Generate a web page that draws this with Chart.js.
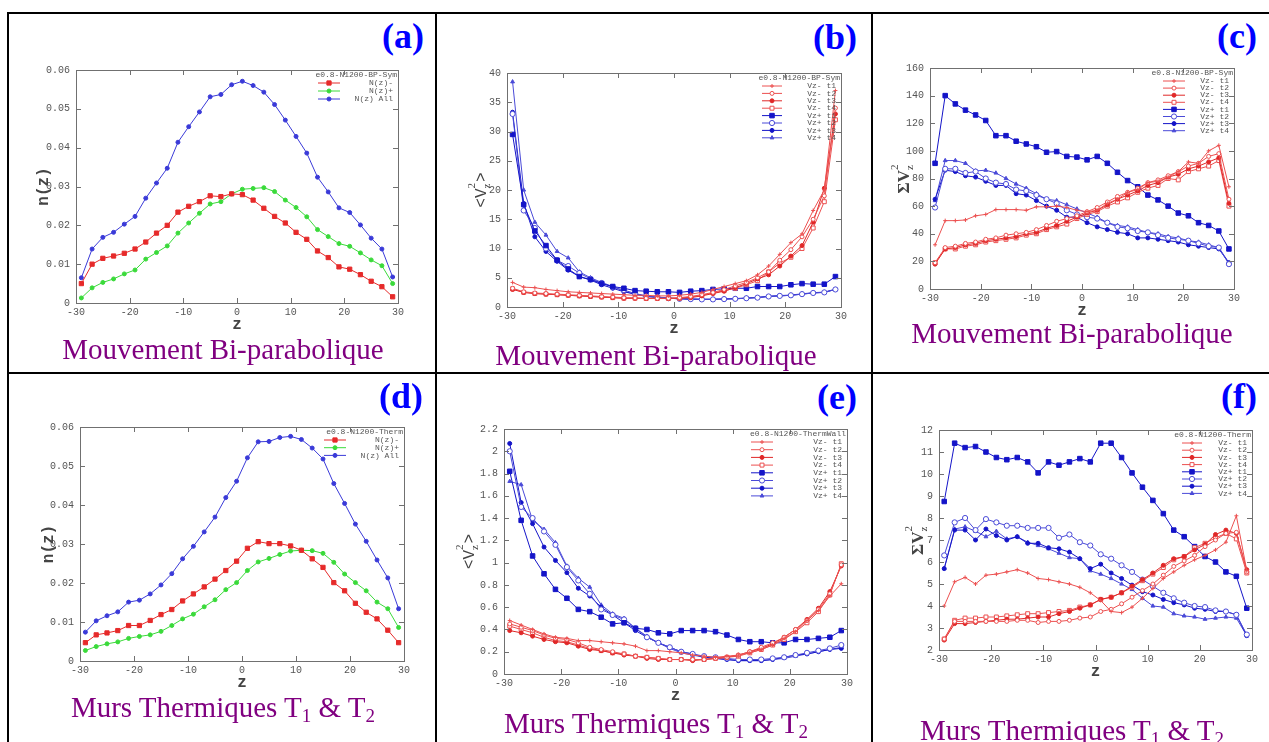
<!DOCTYPE html>
<html>
<head>
<meta charset="utf-8">
<script src="https://cdn.jsdelivr.net/npm/chart.js@4.4.0/dist/chart.umd.min.js"></script>
<style>
body{margin:0;background:#fff;width:1269px;height:742px;overflow:hidden;position:relative}
.ln{position:absolute;background:#000}
.box{position:absolute}
.tag{position:absolute;width:80px;text-align:right;font:bold 36px "Liberation Serif",serif;line-height:36px;color:#0000ff}
.cap{position:absolute;width:440px;text-align:center;white-space:nowrap;font:29px "Liberation Serif",serif;line-height:29px;color:#800080}
.cap sub{font-size:19px;line-height:0;vertical-align:-5px}
</style>
</head>
<body>
<div class="ln" style="left:7px;top:12px;width:1262px;height:2px"></div>
<div class="ln" style="left:7px;top:372px;width:1262px;height:2px"></div>
<div class="ln" style="left:7px;top:12px;width:2px;height:730px"></div>
<div class="ln" style="left:435px;top:12px;width:2px;height:730px"></div>
<div class="ln" style="left:871px;top:12px;width:2px;height:730px"></div>

<div class="box" id="boxa"><canvas id="ca"></canvas></div>
<div class="box" id="boxb"><canvas id="cb"></canvas></div>
<div class="box" id="boxc"><canvas id="cc"></canvas></div>
<div class="box" id="boxd"><canvas id="cd"></canvas></div>
<div class="box" id="boxe"><canvas id="ce"></canvas></div>
<div class="box" id="boxf"><canvas id="cf"></canvas></div>

<div class="tag" style="left:344px;top:18px">(a)</div>
<div class="tag" style="left:777px;top:19px">(b)</div>
<div class="tag" style="left:1177px;top:18px">(c)</div>
<div class="tag" style="left:343px;top:378px">(d)</div>
<div class="tag" style="left:777px;top:379px">(e)</div>
<div class="tag" style="left:1177px;top:378px">(f)</div>

<div class="cap" style="left:3px;top:335px">Mouvement Bi-parabolique</div>
<div class="cap" style="left:436px;top:341px">Mouvement Bi-parabolique</div>
<div class="cap" style="left:852px;top:319px">Mouvement Bi-parabolique</div>
<div class="cap" style="left:3px;top:693px">Murs Thermiques T<sub>1</sub> &amp; T<sub>2</sub></div>
<div class="cap" style="left:436px;top:709px">Murs Thermiques T<sub>1</sub> &amp; T<sub>2</sub></div>
<div class="cap" style="left:852px;top:716px">Murs Thermiques T<sub>1</sub> &amp; T<sub>2</sub></div>

<script>
// z positions of the bins
const zValues = [-29,-27,-25,-23,-21,-19,-17,-15,-13,-11,-9,-7,-5,-3,-1,1,3,5,7,9,11,13,15,17,19,21,23,25,27,29];
const xTicks = [-30,-20,-10,0,10,20,30];

// (a) n(z), bi-parabolic
const aMinus = [0.0050,0.0100,0.0115,0.0121,0.0128,0.0139,0.0157,0.0180,0.0200,0.0234,0.0249,0.0261,0.0276,0.0274,0.0281,0.0279,0.0265,0.0244,0.0223,0.0206,0.0182,0.0164,0.0134,0.0117,0.0093,0.0087,0.0073,0.0056,0.0042,0.0016];
const aPlus  = [0.0013,0.0039,0.0053,0.0062,0.0075,0.0085,0.0113,0.0130,0.0147,0.0180,0.0206,0.0231,0.0255,0.0261,0.0281,0.0293,0.0295,0.0297,0.0287,0.0265,0.0246,0.0222,0.0189,0.0171,0.0153,0.0146,0.0129,0.0111,0.0096,0.0050];
const aAll   = [0.0065,0.0139,0.0169,0.0182,0.0203,0.0223,0.0270,0.0309,0.0347,0.0414,0.0454,0.0492,0.0531,0.0537,0.0562,0.0571,0.0560,0.0543,0.0511,0.0471,0.0429,0.0386,0.0324,0.0286,0.0245,0.0233,0.0201,0.0167,0.0139,0.0067];

// (b) <Vz^2>, bi-parabolic
const bVm1 = [4.2,3.4,3.3,3.0,2.8,2.6,2.5,2.4,2.3,2.2,2.1,2.0,2.0,1.9,1.9,2.0,2.2,2.5,3.0,3.5,4.0,4.5,5.5,7.0,9.0,11.0,12.5,16.5,20.0,37.0];
const bVm2 = [3.2,2.6,2.4,2.3,2.2,2.1,2.0,1.9,1.8,1.7,1.6,1.55,1.5,1.5,1.5,1.6,1.8,2.1,2.5,3.0,3.6,4.2,5.0,6.0,8.0,9.8,12.0,15.0,19.0,34.0];
const bVm3 = [3.0,2.5,2.3,2.2,2.1,2.0,1.9,1.8,1.7,1.6,1.5,1.5,1.45,1.45,1.45,1.5,1.6,1.9,2.3,2.7,3.3,4.0,4.8,5.5,7.0,8.7,10.5,14.5,20.3,33.0];
const bVm4 = [3.1,2.5,2.3,2.2,2.1,2.0,1.9,1.8,1.7,1.6,1.5,1.5,1.45,1.45,1.45,1.5,1.7,2.0,2.4,2.8,3.2,3.8,4.5,6.0,7.5,8.5,10.0,13.5,18.0,32.0];
const bVp1 = [29.5,17.5,13,10.5,8,6.5,5.2,4.7,4,3.5,3.2,2.8,2.7,2.6,2.6,2.5,2.7,2.8,3,3.1,3.2,3.2,3.5,3.5,3.5,3.8,4,3.9,3.9,5.2];
const bVp2 = [33,16.5,13.5,10,8,7,5.8,4.8,4.1,3.4,2.9,2.3,1.9,1.7,1.5,1.4,1.35,1.3,1.3,1.35,1.4,1.5,1.6,1.8,1.9,2.0,2.2,2.4,2.5,3.0];
const bVp3 = [33.3,17.7,12,9.5,7.8,6.3,5.2,4.6,3.8,3.2,2.6,2.2,1.8,1.6,1.5,1.4,1.3,1.3,1.3,1.35,1.4,1.5,1.6,1.8,1.9,2.0,2.2,2.4,2.5,3.0];
const bVp4 = [38.5,20,14.5,12.3,9.5,8.4,6,5,4.2,3.5,2.7,2.2,1.9,1.7,1.55,1.45,1.4,1.35,1.35,1.4,1.45,1.55,1.65,1.85,1.95,2.05,2.25,2.45,2.55,3.05];

// (c) sum Vz^2, bi-parabolic
const cVm1 = [32,49.5,49.5,50,53,54,57.5,57.5,57.5,57,59.5,59.5,60,59,57,56,57,62,65,70,72,77,78,81,85,92,91,100,104,74];
const cVm2 = [19,30,31,33,34,36,37,39,40,41,43,46,49,51,53,56,59,63,67,70,73,77,79,82,85,89,91,96,98,65];
const cVm3 = [18,29,30,32,33,35,36,37,38,40,41,44,46,49,52,55,57,61,65,68,71,75,77,81,83,87,89,92,95,62];
const cVm4 = [19,29,29,31,32,34,35,36,37,39,40,43,45,47,51,54,56,60,63,66,70,73,75,80,79,85,87,89,93,60];
const cVp1 = [91,140,134,129.5,126,122,111,111,107,105,103,99,99.5,96,95.5,93.5,96,91,84.5,78.5,74,68,64.5,60,55,53,48,46,42,29];
const cVp2 = [59,87,87,84,85,80,77,76,72,71,68,65,62,57,54,52,51,48,45,44,42,41,39,37,36,35,33,31,30,18];
const cVp3 = [65,86,85,82,81,78,75,75,69,68,64,60,57,52,52,48,45,43,41,40,37,37,36,35,34,32,31,30,29,19];
const cVp4 = [64,93,93,91,85.5,86,84,80,76,73,69,65,64,61,58,55,52,48,46,45,43,41,40,38,37,35,34,32,30,19];

// (d) n(z), thermal walls
const dMinus = [0.0047,0.0067,0.0072,0.0078,0.0091,0.0091,0.0104,0.0119,0.0132,0.0154,0.0172,0.0190,0.0210,0.0232,0.0256,0.0289,0.0306,0.0301,0.0301,0.0295,0.0284,0.0262,0.0240,0.0201,0.0180,0.0148,0.0125,0.0108,0.0079,0.0047];
const dPlus  = [0.0027,0.0037,0.0044,0.0049,0.0058,0.0063,0.0067,0.0076,0.0091,0.0108,0.0120,0.0139,0.0157,0.0183,0.0201,0.0232,0.0254,0.0263,0.0273,0.0282,0.0284,0.0283,0.0276,0.0253,0.0223,0.0201,0.0180,0.0151,0.0134,0.0086];
const dAll   = [0.0074,0.0103,0.0116,0.0126,0.0151,0.0156,0.0172,0.0195,0.0224,0.0262,0.0294,0.0331,0.0369,0.0419,0.0461,0.0521,0.0562,0.0563,0.0573,0.0576,0.0568,0.0546,0.0518,0.0455,0.0404,0.0351,0.0307,0.0259,0.0213,0.0134];

// (e) <Vz^2>, thermal walls
const eVm1 = [0.48,0.44,0.40,0.36,0.33,0.32,0.30,0.30,0.29,0.28,0.27,0.25,0.21,0.21,0.20,0.19,0.17,0.16,0.15,0.16,0.17,0.19,0.22,0.26,0.32,0.38,0.48,0.57,0.70,0.81];
const eVm2 = [0.45,0.42,0.39,0.35,0.32,0.31,0.28,0.24,0.22,0.20,0.18,0.16,0.15,0.14,0.13,0.13,0.13,0.13,0.14,0.15,0.17,0.20,0.24,0.28,0.33,0.40,0.48,0.58,0.72,0.98];
const eVm3 = [0.39,0.37,0.34,0.31,0.29,0.28,0.25,0.22,0.21,0.19,0.17,0.16,0.14,0.13,0.13,0.13,0.12,0.13,0.14,0.15,0.17,0.20,0.23,0.27,0.33,0.40,0.49,0.59,0.74,0.97];
const eVm4 = [0.43,0.40,0.37,0.33,0.30,0.29,0.26,0.23,0.21,0.19,0.18,0.16,0.15,0.14,0.13,0.13,0.13,0.13,0.14,0.15,0.16,0.19,0.22,0.26,0.31,0.38,0.46,0.56,0.71,0.99];
const eVp1 = [1.82,1.38,1.06,0.90,0.76,0.68,0.58,0.56,0.51,0.45,0.46,0.41,0.40,0.37,0.36,0.39,0.39,0.39,0.38,0.35,0.31,0.29,0.29,0.28,0.28,0.31,0.31,0.32,0.33,0.39];
const eVp2 = [2.0,1.5,1.4,1.28,1.16,0.96,0.84,0.72,0.58,0.53,0.49,0.41,0.33,0.28,0.24,0.20,0.18,0.16,0.15,0.14,0.13,0.13,0.13,0.14,0.15,0.17,0.19,0.21,0.23,0.26];
const eVp3 = [2.07,1.54,1.35,1.14,1.02,0.91,0.77,0.70,0.60,0.53,0.46,0.39,0.33,0.28,0.24,0.20,0.18,0.15,0.14,0.13,0.12,0.12,0.12,0.13,0.15,0.17,0.18,0.20,0.22,0.23];
const eVp4 = [1.73,1.70,1.38,1.30,1.18,0.97,0.86,0.78,0.62,0.54,0.50,0.41,0.34,0.28,0.23,0.19,0.17,0.15,0.14,0.13,0.12,0.12,0.12,0.13,0.14,0.16,0.18,0.20,0.22,0.24];

// (f) sum Vz^2, thermal walls
const fVm1 = [4.0,5.1,5.3,5.0,5.4,5.45,5.55,5.65,5.5,5.25,5.2,5.1,5.0,4.85,4.6,4.25,3.75,3.7,3.95,4.35,4.8,5.25,5.55,5.85,6.1,6.3,6.55,6.9,8.1,5.6];
const fVm2 = [2.5,3.3,3.3,3.3,3.3,3.3,3.3,3.35,3.35,3.25,3.3,3.3,3.35,3.45,3.5,3.75,3.85,4.1,4.4,4.7,5.0,5.4,5.8,6.05,6.3,6.7,7.0,7.3,7.35,5.55];
const fVm3 = [2.45,3.2,3.2,3.25,3.3,3.35,3.4,3.4,3.45,3.5,3.5,3.65,3.75,3.9,4.05,4.3,4.4,4.6,4.9,5.2,5.5,5.85,6.15,6.25,6.55,6.8,7.25,7.45,7.3,5.65];
const fVm4 = [2.5,3.35,3.45,3.45,3.5,3.5,3.55,3.6,3.65,3.65,3.7,3.75,3.8,3.95,4.05,4.3,4.4,4.6,4.85,5.15,5.45,5.75,6.1,6.25,6.65,6.85,7.1,7.3,7.05,5.5];
const fVp1 = [8.75,11.4,11.2,11.25,11.0,10.75,10.65,10.75,10.55,10.05,10.55,10.4,10.55,10.7,10.55,11.4,11.4,10.75,10.05,9.4,8.8,8.2,7.45,7.15,6.7,6.25,6.0,5.55,5.35,3.9];
const fVp2 = [6.3,7.8,8.0,7.45,7.95,7.8,7.65,7.65,7.55,7.55,7.55,7.1,7.25,6.9,6.75,6.35,6.15,5.85,5.55,5.2,4.9,4.6,4.35,4.15,4.0,3.95,3.8,3.75,3.6,2.7];
const fVp3 = [5.7,7.45,7.45,7.0,7.5,7.2,7.0,7.15,6.85,6.85,6.65,6.6,6.45,6.15,5.7,5.9,5.5,5.25,4.95,4.65,4.5,4.3,4.15,4.05,3.9,3.85,3.75,3.75,3.6,2.65];
const fVp4 = [5.7,7.5,7.6,7.4,7.15,7.4,7.05,7.15,6.9,6.75,6.6,6.4,6.2,6.15,5.6,5.45,5.25,5.0,4.75,4.35,4.0,3.95,3.65,3.55,3.5,3.4,3.45,3.5,3.45,2.65];

const nLabels = ['N(z)-', 'N(z)+', 'N(z) All'];
const vLabels = ['Vz- t1','Vz- t2','Vz- t3','Vz- t4','Vz+ t1','Vz+ t2','Vz+ t3','Vz+ t4'];

const nStyles = [
  {c:'#e62a2a', ps:'rect', r:3, fill:true},
  {c:'#3ada3a', ps:'circle', r:2, fill:true},
  {c:'#3a3ad8', ps:'circle', r:2, fill:true}
];
const vStyles = [
  {c:'#ec5050', ps:'cross', r:2, fill:true},
  {c:'#ec5050', ps:'circle', r:2, fill:false},
  {c:'#e02828', ps:'circle', r:2, fill:true},
  {c:'#ec5050', ps:'rect', r:2.8, fill:false},
  {c:'#1414c8', ps:'rect', r:3.2, fill:true},
  {c:'#4a4ad8', ps:'circle', r:2.6, fill:false},
  {c:'#1414c8', ps:'circle', r:2, fill:true},
  {c:'#4a4ad8', ps:'triangle', r:2.2, fill:true}
];

function makeSets(series, labels, styles) {
  return series.map((s, i) => ({
    label: labels[i],
    data: zValues.map((z, k) => ({x: z, y: s[k]})),
    borderColor: styles[i].c,
    backgroundColor: styles[i].fill ? styles[i].c : '#fff',
    pointStyle: styles[i].ps,
    pointRadius: styles[i].r,
    pointBorderWidth: 1,
    borderWidth: 1,
    tension: 0
  }));
}

// gnuplot-like frame with inward ticks on all four sides
const framePlugin = {
  id: 'frame',
  afterDatasetsDraw(chart) {
    const {ctx, chartArea: a, scales} = chart;
    ctx.save();
    ctx.strokeStyle = '#707070';
    ctx.lineWidth = 1;
    ctx.strokeRect(Math.round(a.left) + .5, Math.round(a.top) + .5, Math.round(a.right - a.left), Math.round(a.bottom - a.top));
    ctx.beginPath();
    scales.x.ticks.forEach(t => {
      const p = Math.round(scales.x.getPixelForValue(t.value)) + .5;
      ctx.moveTo(p, a.bottom); ctx.lineTo(p, a.bottom - 5);
      ctx.moveTo(p, a.top); ctx.lineTo(p, a.top + 5);
    });
    scales.y.ticks.forEach(t => {
      const p = Math.round(scales.y.getPixelForValue(t.value)) + .5;
      ctx.moveTo(a.left, p); ctx.lineTo(a.left + 5, p);
      ctx.moveTo(a.right, p); ctx.lineTo(a.right - 5, p);
    });
    ctx.stroke();
    ctx.restore();
  }
};

// key in the top right corner, sample on the left, text right aligned
const keyPlugin = {
  id: 'gkey',
  afterDraw(chart, args, o) {
    const {ctx, chartArea: a} = chart;
    ctx.save();
    ctx.font = '8px "Liberation Mono", monospace';
    ctx.textAlign = 'right';
    ctx.textBaseline = 'middle';
    ctx.fillStyle = '#555';
    ctx.fillText(o.title, a.right - 1, a.top + 5);
    chart.data.datasets.forEach((ds, i) => {
      const yy = a.top + 13 + i * o.rowH;
      ctx.fillStyle = '#555';
      ctx.fillText(ds.label, a.right - 5, yy);
      const x0 = a.right - o.sample[0], x1 = a.right - o.sample[1];
      ctx.strokeStyle = ds.borderColor;
      ctx.lineWidth = 1;
      ctx.beginPath(); ctx.moveTo(x0, yy); ctx.lineTo(x1, yy); ctx.stroke();
      ctx.fillStyle = ds.backgroundColor;
      if (Chart.helpers && Chart.helpers.drawPoint) {
        Chart.helpers.drawPoint(ctx, {pointStyle: ds.pointStyle, radius: ds.pointRadius, borderWidth: 1, rotation: 0}, (x0 + x1) / 2, yy);
      }
    });
    ctx.restore();
  }
};

// rotated y title with stacked sub/superscript
const yTitlePlugin = {
  id: 'ytitle',
  afterDraw(chart, args, o) {
    const {ctx, chartArea: a} = chart;
    const big = o.font, small = '11px "Liberation Serif", serif';
    ctx.save();
    ctx.translate(a.left - o.offset, (a.top + a.bottom) / 2);
    ctx.rotate(-Math.PI / 2);
    ctx.fillStyle = '#444';
    ctx.textBaseline = 'alphabetic';
    ctx.textAlign = 'left';
    ctx.font = big;
    const w1 = ctx.measureText(o.main).width;
    ctx.font = small;
    const w2 = o.sub ? Math.max(ctx.measureText(o.sub).width, ctx.measureText(o.sup).width) + 1 : 0;
    ctx.font = big;
    const w3 = o.tail ? ctx.measureText(o.tail).width : 0;
    let x = -(w1 + w2 + w3) / 2;
    const base = 6;
    ctx.fillText(o.main, x, base);
    x += w1;
    if (o.sub) {
      ctx.font = small;
      ctx.fillText(o.sub, x, base + 4);
      ctx.fillText(o.sup, x, base - 11);
      x += w2;
    }
    if (o.tail) { ctx.font = big; ctx.fillText(o.tail, x, base); }
    ctx.restore();
  }
};

const tickFont = {family: '"Liberation Mono", monospace', size: 10};

function makeChart(id, box, geom, sets, yMin, yMax, yStep, key, ytitle) {
  const [L, T, R, B] = geom;
  const el = document.getElementById(box);
  el.style.left = (L - 60) + 'px';
  el.style.top = (T - 12) + 'px';
  el.style.width = (R - L + 72) + 'px';
  el.style.height = (B - T + 12 + 32) + 'px';
  return new Chart(document.getElementById(id), {
    type: 'line',
    data: {datasets: sets},
    plugins: [framePlugin, keyPlugin, yTitlePlugin],
    options: {
      responsive: true,
      maintainAspectRatio: false,
      animation: false,
      layout: {padding: {left: 0, top: 12, right: 12, bottom: 0}},
      plugins: {
        legend: {display: false},
        tooltip: {enabled: false},
        gkey: key,
        ytitle: ytitle
      },
      scales: {
        x: {
          type: 'linear', min: -30, max: 30,
          afterBuildTicks: s => { s.ticks = xTicks.map(v => ({value: v})); },
          afterFit: s => { s.height = 32; },
          grid: {display: false, drawTicks: false},
          border: {display: false},
          ticks: {font: tickFont, color: '#555', padding: 3, maxRotation: 0, callback: v => String(v)},
          title: {display: true, text: 'z', color: '#444', font: {family: '"Liberation Mono", monospace', size: 16, weight: 'bold'}, padding: {top: 0, bottom: 0}}
        },
        y: {
          min: yMin, max: yMax,
          afterFit: s => { s.width = 60; },
          grid: {display: false, drawTicks: false},
          border: {display: false},
          ticks: {stepSize: yStep, font: tickFont, color: '#555', padding: 6, callback: v => String(+v.toFixed(3))}
        }
      }
    }
  });
}

const nTitle = {main: 'n(z)', font: 'bold 16px "Liberation Mono", monospace', offset: 34};

makeChart('ca', 'boxa', [76, 70, 398, 303],
  makeSets([aMinus, aPlus, aAll], nLabels, nStyles), 0, 0.06, 0.01,
  {title: 'e0.8-N1200-BP-Sym', rowH: 8, sample: [80, 58]}, nTitle);

makeChart('cb', 'boxb', [507, 73, 841, 307],
  makeSets([bVm1, bVm2, bVm3, bVm4, bVp1, bVp2, bVp3, bVp4], vLabels, vStyles), 0, 40, 5,
  {title: 'e0.8-N1200-BP-Sym', rowH: 7.4, sample: [79, 59]},
  {main: '<V', sub: 'z', sup: '2', tail: '>', font: '16px "Liberation Mono", monospace', offset: 27});

makeChart('cc', 'boxc', [930, 68, 1234, 289],
  makeSets([cVm1, cVm2, cVm3, cVm4, cVp1, cVp2, cVp3, cVp4], vLabels, vStyles), 0, 160, 20,
  {title: 'e0.8-N1200-BP-Sym', rowH: 7.1, sample: [71, 49]},
  {main: '\u03A3V', sub: 'z', sup: '2', font: 'bold 17px "Liberation Serif", serif', offset: 27});

makeChart('cd', 'boxd', [80, 427, 404, 661],
  makeSets([dMinus, dPlus, dAll], nLabels, nStyles), 0, 0.06, 0.01,
  {title: 'e0.8-N1200-Therm', rowH: 7.7, sample: [80, 58]},
  {main: 'n(z)', font: 'bold 16px "Liberation Mono", monospace', offset: 33});

makeChart('ce', 'boxe', [504, 429, 847, 674],
  makeSets([eVm1, eVm2, eVm3, eVm4, eVp1, eVp2, eVp3, eVp4], vLabels, vStyles), 0, 2.2, 0.2,
  {title: 'e0.8-N1200-ThermWall', rowH: 7.7, sample: [96, 74]},
  {main: '<V', sub: 'z', sup: '2', tail: '>', font: '16px "Liberation Mono", monospace', offset: 36});

makeChart('cf', 'boxf', [939, 430, 1252, 650],
  makeSets([fVm1, fVm2, fVm3, fVm4, fVp1, fVp2, fVp3, fVp4], vLabels, vStyles), 2, 12, 1,
  {title: 'e0.8-N1200-Therm', rowH: 7.2, sample: [70, 50]},
  {main: '\u03A3V', sub: 'z', sup: '2', font: 'bold 17px "Liberation Serif", serif', offset: 22});
</script>
</body>
</html>
